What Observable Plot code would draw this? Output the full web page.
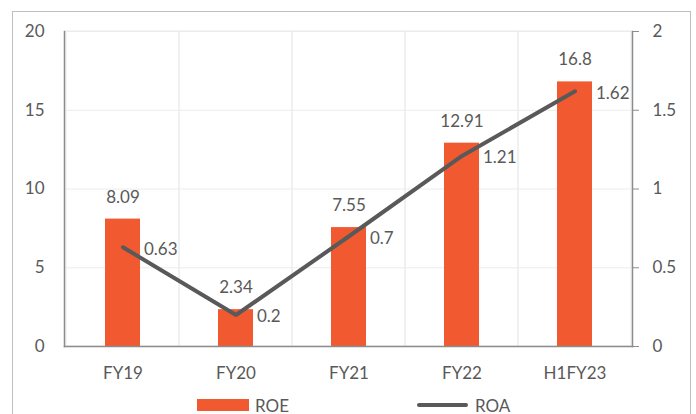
<!DOCTYPE html>
<html>
<head>
<meta charset="utf-8">
<script src="https://cdn.jsdelivr.net/npm/d3@7"></script>
<script src="https://cdn.jsdelivr.net/npm/@observablehq/plot@0.6"></script>
<style>
  html, body { margin: 0; padding: 0; background: #fff; }
  body { width: 696px; height: 414px; position: relative; overflow: hidden; font-family: Lato, "Open Sans", sans-serif; }
  #frame { position: absolute; left: 12px; top: 11px; width: 679px; height: 420px; border: 1px solid #bfbfbf; box-sizing: border-box; }
  #chart { position: absolute; left: 0; top: 0; }
  #legend { position: absolute; top: 393px; left: 0; width: 696px; height: 24px; font-size: 17px; color: #595959; }
  .item { position: absolute; display: flex; align-items: center; height: 24px; }
  .sw-bar { width: 52px; height: 12px; background: #F15A31; margin-right: 6px; }
  .sw-line { width: 51px; height: 4px; background: #595959; border-radius: 2px; margin-right: 7px; }
</style>
</head>
<body>
<div id="frame"></div>
<div id="chart"></div>
<div id="legend">
  <div class="item" style="left:197px"><div class="sw-bar"></div><span>ROE</span></div>
  <div class="item" style="left:417px"><div class="sw-line"></div><span>ROA</span></div>
</div>
<script>
const categories = ["FY19", "FY20", "FY21", "FY22", "H1FY23"];
const roe = [8.09, 2.34, 7.55, 12.91, 16.8];
const roa = [0.63, 0.2, 0.7, 1.21, 1.62];
const leftTicks = [0, 5, 10, 15, 20];
const rightTicks = [0, 0.5, 1, 1.5, 2];

const data = categories.map((c, i) => ({cat: c, roe: roe[i], roa: roa[i]}));
const ratio = 10; // left axis max / right axis max

const textColor = "#595959";

const chart = Plot.plot({
  width: 696,
  height: 390,
  marginLeft: 64,
  marginRight: 64,
  marginTop: 31,
  marginBottom: 44,
  style: {fontFamily: "Lato, 'Open Sans', sans-serif", fontSize: "17px", color: textColor, background: "transparent", overflow: "visible"},
  x: {domain: categories, padding: 0, label: null},
  y: {domain: [0, 20], label: null},
  marks: [
    Plot.ruleY(leftTicks.filter(d => d > 0), {stroke: "#ececec", strokeWidth: 1}),
    Plot.barY(categories, {x: d => d, y1: 0, y2: 20, fill: "none", stroke: "#ececec", strokeWidth: 1}),
    Plot.barY(data, {x: "cat", y: "roe", fill: "#F15A31", insetLeft: 39, insetRight: 39}),
    Plot.text(data, {x: "cat", y: "roe", text: d => String(d.roe), dy: -22, fill: textColor, fontSize: 17}),
    Plot.line(data, {x: "cat", y: d => d.roa * ratio, stroke: "#595959", strokeWidth: 4, strokeLinecap: "round", strokeLinejoin: "miter"}),
    Plot.text(data, {x: "cat", y: d => d.roa * ratio, text: d => String(d.roa), dx: 21, dy: 2, textAnchor: "start", fill: textColor, fontSize: 17}),
    Plot.axisY(leftTicks, {anchor: "left", tickSize: 0, tickPadding: 20, label: null, fill: textColor, fontSize: 17}),
    Plot.axisY(rightTicks.map(d => d * ratio), {anchor: "right", tickSize: 6, tickPadding: 14, stroke: "#8c8c8c", label: null, tickFormat: d => String(d / ratio), fill: textColor, fontSize: 17}),
    Plot.axisX({tickSize: 0, tickPadding: 20, label: null, fill: textColor, fontSize: 17}),
    Plot.frame({anchor: "bottom", stroke: "#8c8c8c", strokeWidth: 1.5}),
    Plot.frame({anchor: "left", stroke: "#8c8c8c", strokeWidth: 1.5}),
    Plot.frame({anchor: "right", stroke: "#8c8c8c", strokeWidth: 1.5})
  ]
});
document.getElementById("chart").appendChild(chart);
</script>
</body>
</html>
